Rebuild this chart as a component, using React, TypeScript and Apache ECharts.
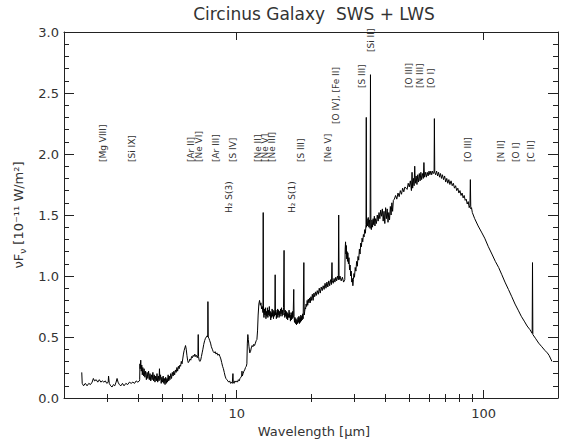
import React, { useEffect, useRef } from "react";
import * as echarts from "echarts";

// ---------------- data ----------------
// Circinus Galaxy ISO SWS + LWS spectrum: [wavelength (micron), nuF_nu (1e-11 W/m^2)]
const swsBand1: [number, number][] = [
  [2.36, 0.21], [2.37, 0.12], [2.4, 0.1], [2.44, 0.12], [2.48, 0.1], [2.52, 0.12], [2.56, 0.11],
  [2.6, 0.13], [2.63, 0.16], [2.66, 0.14], [2.7, 0.15], [2.74, 0.13], [2.78, 0.15], [2.82, 0.13],
  [2.86, 0.14], [2.9, 0.13], [2.94, 0.14], [2.98, 0.12], [3.02, 0.13], [3.03, 0.18], [3.05, 0.12],
  [3.09, 0.1], [3.13, 0.09], [3.17, 0.11], [3.21, 0.1], [3.25, 0.13], [3.28, 0.16], [3.31, 0.13],
  [3.35, 0.11], [3.4, 0.1], [3.45, 0.12], [3.5, 0.1], [3.56, 0.12], [3.62, 0.11], [3.68, 0.13],
  [3.74, 0.12], [3.8, 0.13], [3.86, 0.12], [3.92, 0.14], [3.98, 0.13], [4.04, 0.14],
];
const swsBand2: [number, number][] = [
  [4.05, 0.15], [4.06, 0.28], [4.07, 0.24], [4.09, 0.31], [4.11, 0.22], [4.13, 0.27], [4.15, 0.19],
  [4.17, 0.25], [4.2, 0.18], [4.22, 0.24], [4.25, 0.17], [4.28, 0.22], [4.31, 0.15], [4.34, 0.21],
  [4.37, 0.16], [4.4, 0.22], [4.43, 0.15], [4.46, 0.2], [4.49, 0.14], [4.52, 0.19], [4.55, 0.15],
  [4.58, 0.21], [4.61, 0.14], [4.64, 0.19], [4.67, 0.13], [4.7, 0.18], [4.73, 0.14], [4.76, 0.2],
  [4.79, 0.13], [4.82, 0.18], [4.85, 0.14], [4.87, 0.24], [4.89, 0.15], [4.92, 0.19], [4.95, 0.12],
  [4.98, 0.17], [5.01, 0.13], [5.04, 0.18], [5.07, 0.12], [5.1, 0.16], [5.13, 0.11], [5.16, 0.17],
  [5.19, 0.12], [5.22, 0.16], [5.25, 0.13], [5.28, 0.19], [5.31, 0.14], [5.34, 0.18], [5.37, 0.15],
  [5.41, 0.2], [5.45, 0.16], [5.49, 0.21], [5.53, 0.18], [5.57, 0.22], [5.61, 0.19], [5.65, 0.23],
  [5.69, 0.21], [5.73, 0.25], [5.77, 0.22], [5.81, 0.26], [5.85, 0.24], [5.89, 0.27], [5.93, 0.26],
  [5.97, 0.3], [6.01, 0.28], [6.05, 0.32], [6.09, 0.36], [6.13, 0.39], [6.17, 0.41], [6.21, 0.43],
  [6.25, 0.4], [6.29, 0.35], [6.33, 0.31], [6.37, 0.29], [6.42, 0.3], [6.47, 0.32], [6.52, 0.31],
  [6.57, 0.34], [6.62, 0.33], [6.67, 0.35], [6.72, 0.34], [6.77, 0.36], [6.82, 0.34], [6.87, 0.35],
  [6.93, 0.33], [6.97, 0.35], [6.99, 0.52], [7.01, 0.34], [7.05, 0.31], [7.1, 0.3], [7.15, 0.31],
  [7.2, 0.34], [7.25, 0.37], [7.3, 0.4], [7.36, 0.44], [7.42, 0.47], [7.48, 0.49], [7.54, 0.5],
  [7.6, 0.51], [7.64, 0.5], [7.65, 0.79], [7.67, 0.5], [7.72, 0.49], [7.78, 0.47], [7.84, 0.45],
  [7.9, 0.42], [7.97, 0.4], [8.04, 0.38], [8.11, 0.37], [8.18, 0.38], [8.25, 0.36], [8.32, 0.37],
  [8.4, 0.35], [8.48, 0.36], [8.56, 0.34], [8.63, 0.32], [8.7, 0.29], [8.77, 0.26], [8.84, 0.24],
  [8.91, 0.21], [8.98, 0.18], [9.05, 0.16], [9.13, 0.15], [9.21, 0.14], [9.29, 0.13], [9.37, 0.14],
  [9.45, 0.12], [9.53, 0.13], [9.6, 0.12], [9.66, 0.2], [9.69, 0.13], [9.76, 0.12], [9.84, 0.14],
  [9.92, 0.13], [10.0, 0.14], [10.08, 0.13], [10.16, 0.15], [10.24, 0.14], [10.32, 0.16],
  [10.4, 0.17], [10.48, 0.18], [10.51, 0.22], [10.54, 0.18], [10.62, 0.2], [10.7, 0.22],
  [10.78, 0.23], [10.86, 0.25], [10.94, 0.26], [11.0, 0.28], [11.05, 0.45], [11.1, 0.52],
  [11.15, 0.48], [11.22, 0.42], [11.3, 0.37], [11.38, 0.38], [11.46, 0.41], [11.55, 0.43],
  [11.64, 0.42], [11.73, 0.44], [11.82, 0.43], [11.91, 0.45], [12.0, 0.47], [12.08, 0.48],
  [12.15, 0.55], [12.22, 0.68], [12.3, 0.77], [12.38, 0.8], [12.46, 0.76], [12.54, 0.78], [12.62, 0.73],
];
const swsBand3: [number, number][] = [
  [12.7, 0.75], [12.78, 0.7], [12.81, 1.52], [12.84, 0.72], [12.9, 0.66], [12.96, 0.73], [13.02, 0.68],
  [13.08, 0.74], [13.14, 0.65], [13.2, 0.71], [13.26, 0.67], [13.32, 0.74], [13.38, 0.66], [13.44, 0.72],
  [13.5, 0.68], [13.56, 0.75], [13.62, 0.67], [13.68, 0.71], [13.74, 0.64], [13.8, 0.7], [13.86, 0.66],
  [13.92, 0.73], [13.98, 0.67], [14.04, 0.72], [14.1, 0.65], [14.16, 0.71], [14.22, 0.67], [14.28, 0.73],
  [14.32, 1.01], [14.36, 0.68], [14.42, 0.72], [14.48, 0.65], [14.54, 0.7], [14.6, 0.66], [14.66, 0.73],
  [14.72, 0.68], [14.78, 0.72], [14.85, 0.66], [14.92, 0.71], [14.99, 0.67], [15.06, 0.73], [15.13, 0.69],
  [15.2, 0.74], [15.27, 0.67], [15.34, 0.72], [15.41, 0.68], [15.48, 0.74], [15.56, 1.21], [15.6, 0.7],
  [15.67, 0.66], [15.74, 0.72], [15.81, 0.67], [15.88, 0.71], [15.95, 0.65], [16.02, 0.7], [16.09, 0.64],
  [16.16, 0.69], [16.23, 0.66], [16.3, 0.72], [16.37, 0.66], [16.44, 0.7], [16.51, 0.63], [16.58, 0.68],
  [16.65, 0.64], [16.72, 0.7], [16.79, 0.65], [16.86, 0.71], [16.93, 0.66], [17.03, 0.89], [17.08, 0.67],
  [17.15, 0.62], [17.23, 0.66], [17.31, 0.61], [17.39, 0.65], [17.47, 0.6], [17.55, 0.64], [17.63, 0.61],
  [17.71, 0.66], [17.79, 0.62], [17.87, 0.67], [17.95, 0.61], [18.03, 0.66], [18.11, 0.62], [18.19, 0.68],
  [18.27, 0.63], [18.35, 0.67], [18.43, 0.64], [18.51, 0.69], [18.59, 0.65], [18.71, 1.11], [18.78, 0.68],
  [18.86, 0.71], [18.94, 0.74], [19.02, 0.73], [19.1, 0.77], [19.2, 0.75], [19.3, 0.8], [19.4, 0.76],
  [19.5, 0.81], [19.62, 0.78], [19.74, 0.82], [19.86, 0.78], [19.98, 0.83], [20.1, 0.8], [20.25, 0.85],
  [20.4, 0.8], [20.55, 0.86], [20.7, 0.83], [20.85, 0.87], [21.0, 0.84], [21.2, 0.88], [21.4, 0.85],
  [21.6, 0.9], [21.8, 0.86], [22.0, 0.91], [22.2, 0.88], [22.4, 0.92], [22.6, 0.89], [22.8, 0.94],
  [23.0, 0.9], [23.2, 0.95], [23.4, 0.91], [23.6, 0.96], [23.8, 0.92], [24.0, 0.97], [24.2, 0.93],
  [24.32, 1.11], [24.4, 0.96], [24.6, 0.94], [24.8, 0.98], [25.0, 0.95], [25.2, 0.99], [25.4, 0.96],
  [25.6, 1.0], [25.8, 0.97], [25.89, 1.5], [25.99, 0.97], [26.2, 1.0], [26.5, 0.96], [26.8, 0.99],
  [27.1, 0.95], [27.4, 0.97],
];
const swsBand4: [number, number][] = [
  [27.5, 1.22], [27.6, 1.28], [27.7, 1.18], [27.8, 1.25], [27.9, 1.14], [28.0, 1.2], [28.1, 1.12],
  [28.2, 1.19], [28.35, 1.1], [28.5, 1.15], [28.65, 1.05], [28.8, 1.09], [28.95, 1.0], [29.1, 1.04],
  [29.25, 0.95], [29.4, 0.98], [29.55, 0.92], [29.7, 0.97], [29.85, 1.02], [30.0, 0.99], [30.2, 1.07],
  [30.4, 1.04], [30.6, 1.12], [30.8, 1.08], [31.0, 1.16], [31.2, 1.13], [31.4, 1.22], [31.6, 1.18],
  [31.8, 1.27], [32.0, 1.24], [32.2, 1.31], [32.4, 1.28], [32.6, 1.34], [32.8, 1.32], [33.0, 1.38],
  [33.2, 1.35], [33.4, 1.42], [33.48, 2.3], [33.56, 1.4], [33.7, 1.47], [33.9, 1.41], [34.1, 1.48],
  [34.3, 1.4], [34.5, 1.46], [34.7, 1.39], [34.82, 2.65], [34.95, 1.44], [35.1, 1.38], [35.3, 1.46],
  [35.5, 1.4], [35.7, 1.47], [35.9, 1.42], [36.1, 1.49], [36.3, 1.41], [36.5, 1.47], [36.8, 1.43],
  [37.1, 1.5], [37.4, 1.45], [37.7, 1.52], [38.0, 1.47], [38.3, 1.54], [38.6, 1.49], [38.9, 1.55],
  [39.2, 1.45], [39.5, 1.53], [39.8, 1.43], [40.1, 1.56], [40.4, 1.47], [40.7, 1.55], [41.0, 1.44],
  [41.3, 1.52], [41.6, 1.46], [41.9, 1.57], [42.2, 1.5], [42.5, 1.6], [42.8, 1.53], [43.1, 1.62],
];
const lwsBand: [number, number][] = [
  [43.5, 1.63], [44.0, 1.66], [44.5, 1.63], [45.0, 1.68], [45.5, 1.65], [46.0, 1.7], [46.5, 1.67],
  [47.0, 1.72], [47.5, 1.69], [48.0, 1.73], [48.5, 1.72], [49.0, 1.71], [49.5, 1.76], [50.0, 1.73],
  [50.5, 1.78], [51.0, 1.7], [51.3, 1.85], [51.6, 1.72], [52.0, 1.8], [52.3, 1.74], [52.6, 1.9],
  [52.9, 1.76], [53.3, 1.82], [53.7, 1.75], [54.1, 1.83], [54.5, 1.77], [54.9, 1.84], [55.3, 1.78],
  [55.7, 1.85], [56.1, 1.79], [56.6, 1.84], [57.0, 1.8], [57.3, 1.93], [57.6, 1.81], [58.1, 1.85],
  [58.6, 1.81], [59.1, 1.85], [59.6, 1.82], [60.1, 1.86], [60.6, 1.83], [61.1, 1.86], [61.6, 1.83],
  [62.1, 1.86], [62.6, 1.84], [63.0, 1.85], [63.18, 2.29], [63.4, 1.85], [63.9, 1.83], [64.5, 1.86],
  [65.1, 1.82], [65.7, 1.85], [66.3, 1.81], [66.9, 1.84], [67.5, 1.8], [68.1, 1.83], [68.8, 1.79],
  [69.5, 1.82], [70.2, 1.77], [70.9, 1.8], [71.6, 1.76], [72.3, 1.79], [73.0, 1.75], [73.8, 1.78],
  [74.6, 1.74], [75.4, 1.76], [76.2, 1.72], [77.0, 1.74], [77.8, 1.7], [78.6, 1.72], [79.4, 1.68],
  [80.2, 1.7], [81.0, 1.66], [81.8, 1.68], [82.6, 1.64], [83.4, 1.66], [84.2, 1.62], [85.0, 1.63],
  [85.8, 1.59], [86.6, 1.61], [87.4, 1.56], [88.0, 1.58], [88.36, 1.79], [88.7, 1.55], [89.3, 1.56],
  [90.0, 1.52], [92.0, 1.47], [95.0, 1.41], [98.0, 1.36], [101.0, 1.31], [104.5, 1.24], [108.0, 1.18],
  [111.5, 1.12], [115.0, 1.07], [118.5, 1.01], [122.0, 0.95], [126.0, 0.89], [130.0, 0.83],
  [134.0, 0.77], [138.0, 0.72], [142.0, 0.67], [146.0, 0.63], [150.0, 0.59], [154.0, 0.56],
  [157.2, 0.53], [157.7, 1.11], [158.2, 0.52], [162.0, 0.49], [167.0, 0.45], [172.0, 0.42],
  [177.0, 0.39], [181.0, 0.37], [184.0, 0.35], [187.0, 0.32], [189.0, 0.3],
];

// Emission-line annotations: text, wavelength position, flux level of the label's lower end
const lineLabelText = [
  "[Mg VIII]", "[Si IX]", "[Ar II]", "[Ne VI]", "[Ar III]", "[S IV]", "[Ne II]", "[Ne V]", "[Ne III]",
  "[S III]", "[Ne V]", "[O IV], [Fe II]", "[S III]", "[Si II]", "[O III]", "[N III]", "[O I]",
  "[O III]", "[N II]", "[O I]", "[C II]", "H\u2082 S(3)", "H\u2082 S(1)",
];
const lineLabelWavelength = [
  2.87, 3.76, 6.51, 7.02, 8.22, 9.63, 12.16, 12.98, 13.86,
  18.16, 23.36, 25.17, 32.07, 34.88, 49.7, 55.07, 61.0,
  86.1, 117.2, 134.8, 155.0, 9.28, 16.7,
];
const lineLabelLevel = [
  1.934, 1.934, 1.934, 1.934, 1.934, 1.934, 1.934, 1.934, 1.934,
  1.934, 1.934, 2.246, 2.541, 2.836, 2.541, 2.541, 2.541,
  1.934, 1.934, 1.934, 1.934, 1.516, 1.516,
];

const xMajorTicks = [10, 100];
const xMinorTicks = [3, 4, 5, 6, 7, 8, 9, 20, 30, 40, 50, 60, 70, 80, 90];

const TITLE = "Circinus Galaxy  SWS + LWS";
const X_NAME = "Wavelength [\u03bcm]";

// ---------------- chart ----------------
const FONT = "DejaVu Sans";
const INK = "#222";
const TEXT = "#333";

export default function App() {
  const ref = useRef<HTMLDivElement>(null);

  useEffect(() => {
    document.body.style.margin = "0";
    if (!ref.current) return;
    const chart = echarts.init(ref.current, undefined, { renderer: "svg" });
    const spectrum = [...swsBand1, ...swsBand2, ...swsBand3, ...swsBand4, ...lwsBand];

    const logAxisBase = {
      type: "log" as const,
      logBase: 10,
      min: 2,
      max: 200,
      gridIndex: 0,
      splitLine: { show: false },
      minorSplitLine: { show: false },
    };

    chart.setOption({
      animation: false,
      backgroundColor: "#fff",
      grid: { left: 64, right: 5, top: 32, bottom: 43, containLabel: false, outerBoundsMode: "none" },
      xAxis: [
        {
          ...logAxisBase,
          position: "bottom",
          axisLine: { show: true, onZero: false, lineStyle: { color: INK, width: 1 } },
          axisTick: { show: true, inside: true, length: 8, customValues: xMajorTicks, lineStyle: { color: INK } },
          axisLabel: {
            show: true, customValues: xMajorTicks, fontSize: 13, fontFamily: FONT, color: TEXT, margin: 9,
            formatter: (v: number) => String(Math.round(v)),
          },
          name: X_NAME,
          nameLocation: "middle",
          nameGap: 15,
          nameTextStyle: { fontSize: 13, fontFamily: FONT, color: TEXT, padding: [0, 0, 0, 6] },
        },
        {
          ...logAxisBase,
          position: "bottom",
          axisLine: { show: false },
          axisTick: { show: true, inside: true, length: 4, customValues: xMinorTicks, lineStyle: { color: INK } },
          axisLabel: { show: false },
        },
        {
          ...logAxisBase,
          position: "top",
          axisLine: { show: true, onZero: false, lineStyle: { color: INK, width: 1 } },
          axisTick: { show: true, inside: true, length: 8, customValues: xMajorTicks, lineStyle: { color: INK } },
          axisLabel: { show: false },
        },
        {
          ...logAxisBase,
          position: "top",
          axisLine: { show: false },
          axisTick: { show: true, inside: true, length: 4, customValues: xMinorTicks, lineStyle: { color: INK } },
          axisLabel: { show: false },
        },
      ],
      yAxis: [
        {
          type: "value",
          position: "left",
          min: 0,
          max: 3,
          interval: 0.5,
          axisLine: { show: true, onZero: false, lineStyle: { color: INK, width: 1 } },
          axisTick: { show: true, inside: true, length: 10, lineStyle: { color: INK } },
          minorTick: { show: true, splitNumber: 5, length: 5, lineStyle: { color: INK } },
          splitLine: { show: false },
          axisLabel: {
            fontSize: 13, fontFamily: FONT, color: TEXT, margin: 5,
            formatter: (v: number) => v.toFixed(1),
          },
          name: "{a|\u03bdF}{s|\u03bd}{a| [10\u207b\u00b9\u00b9 W/m\u00b2]}",
          nameLocation: "middle",
          nameRotate: 90,
          nameGap: 31,
          nameTextStyle: {
            color: TEXT,
            fontFamily: FONT,
            rich: {
              a: { fontSize: 13, fontFamily: FONT, color: TEXT, lineHeight: 18, verticalAlign: "middle" },
              s: { fontSize: 9, fontFamily: FONT, color: TEXT, lineHeight: 18, verticalAlign: "bottom", padding: [6, 0, 0, 0] },
            },
          },
        },
        {
          type: "value",
          position: "right",
          min: 0,
          max: 3,
          interval: 0.5,
          axisLine: { show: true, onZero: false, lineStyle: { color: INK, width: 1 } },
          axisTick: { show: true, inside: true, length: 10, lineStyle: { color: INK } },
          minorTick: { show: true, splitNumber: 5, length: 5, lineStyle: { color: INK } },
          splitLine: { show: false },
          axisLabel: { show: false },
        },
      ],
      series: [
        {
          type: "line",
          xAxisIndex: 0,
          yAxisIndex: 0,
          data: spectrum,
          symbol: "none",
          showSymbol: false,
          silent: true,
          lineStyle: { color: "#000", width: 1 },
        },
      ],
    });

    const labels = lineLabelText.map((text, i) => {
      const p = chart.convertToPixel({ seriesIndex: 0 }, [lineLabelWavelength[i], lineLabelLevel[i]]) as number[];
      return {
        type: "text",
        x: p[0],
        y: p[1],
        rotation: Math.PI / 2,
        silent: true,
        style: { text, fontSize: 9, fontFamily: FONT, fill: TEXT, align: "left", verticalAlign: "middle" },
      };
    });

    chart.setOption({
      graphic: [
        {
          type: "text",
          x: 314,
          y: 14,
          silent: true,
          style: { text: TITLE, fontSize: 17, fontFamily: FONT, fill: TEXT, align: "center", verticalAlign: "middle" },
        },
        ...labels,
      ],
    });

    return () => chart.dispose();
  }, []);

  return <div ref={ref} style={{ width: 563, height: 441 }} />;
}
